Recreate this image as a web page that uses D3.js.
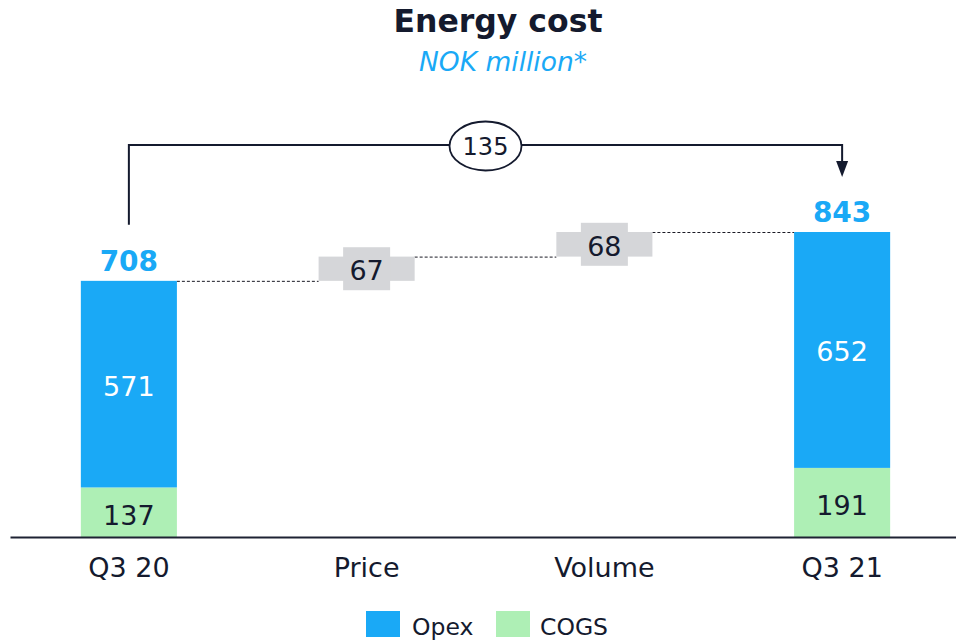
<!DOCTYPE html>
<html>
<head>
<meta charset="utf-8">
<script src="https://cdn.jsdelivr.net/npm/d3@7"></script>
<style>
  html, body { margin: 0; padding: 0; background: #ffffff; }
  svg { display: block; font-family: "DejaVu Sans", Verdana, sans-serif; }
</style>
</head>
<body>
<svg id="chart" width="956" height="641"></svg>
<script>
// Energy cost bridge, NOK million
const categories = ["Q3 20", "Price", "Volume", "Q3 21"];
const cogs = [137, null, null, 191];
const opex = [571, null, null, 652];
const deltas = [null, 67, 68, null];
const totalChange = 135;
const seriesNames = ["Opex", "COGS"];

const COLORS = { opex: "#1aa9f6", cogs: "#aeefb5", delta: "#d5d6d9", ink: "#141a2e", blue: "#1aa9f6" };

const svg = d3.select("#chart");

const x = d3.scaleBand().domain(categories).range([10, 961])
  .paddingInner(0.596).paddingOuter(0.298);
const y = d3.scaleLinear().domain([0, 843]).range([537, 232]);

// Build waterfall rows: totals are stacked, deltas float on the running level
let running = 0;
const rows = categories.map((c, i) => {
  if (deltas[i] == null) {
    const total = cogs[i] + opex[i];
    running = total;
    return { cat: c, type: "total", cogs: cogs[i], opex: opex[i], total };
  }
  const start = running;
  running += deltas[i];
  return { cat: c, type: "delta", start, end: running, value: deltas[i] };
});

const g = svg.append("g");

// Dashed connectors between consecutive bars
rows.forEach((r, i) => {
  if (i === rows.length - 1) return;
  const level = r.type === "total" ? r.total : r.end;
  const next = rows[i + 1];
  g.append("line")
    .attr("x1", x(r.cat) + x.bandwidth())
    .attr("x2", x(next.cat))
    .attr("y1", y(level) + 0.5).attr("y2", y(level) + 0.5)
    .attr("stroke", "#1a1a24").attr("stroke-width", 1)
    .attr("stroke-dasharray", "3,2");
});

// Total bars (COGS below, Opex above)
const totals = rows.filter(r => r.type === "total");
g.selectAll("rect.cogs").data(totals).join("rect")
  .attr("class", "cogs")
  .attr("x", d => x(d.cat)).attr("width", x.bandwidth())
  .attr("y", d => y(d.cogs)).attr("height", d => y(0) - y(d.cogs))
  .attr("fill", COLORS.cogs);
g.selectAll("rect.opex").data(totals).join("rect")
  .attr("class", "opex")
  .attr("x", d => x(d.cat)).attr("width", x.bandwidth())
  .attr("y", d => y(d.total)).attr("height", d => y(d.cogs) - y(d.total))
  .attr("fill", COLORS.opex);

g.selectAll("text.cogsv").data(totals).join("text")
  .attr("x", d => x(d.cat) + x.bandwidth() / 2)
  .attr("y", d => (y(0) + y(d.cogs)) / 2 + 3)
  .attr("text-anchor", "middle").attr("dominant-baseline", "central")
  .attr("font-size", 27).attr("fill", COLORS.ink)
  .text(d => d.cogs);
g.selectAll("text.opexv").data(totals).join("text")
  .attr("x", d => x(d.cat) + x.bandwidth() / 2)
  .attr("y", d => (y(d.cogs) + y(d.total)) / 2 + 2)
  .attr("text-anchor", "middle").attr("dominant-baseline", "central")
  .attr("font-size", 27).attr("fill", "#ffffff")
  .text(d => d.opex);
g.selectAll("text.totalv").data(totals).join("text")
  .attr("x", d => x(d.cat) + x.bandwidth() / 2)
  .attr("y", d => y(d.total) - 10)
  .attr("text-anchor", "middle")
  .attr("font-size", 28).attr("font-weight", "bold").attr("fill", COLORS.blue)
  .text(d => d.total);

// Floating delta bars with a label tab
const dRows = rows.filter(r => r.type === "delta");
g.selectAll("rect.delta").data(dRows).join("rect")
  .attr("x", d => x(d.cat)).attr("width", x.bandwidth())
  .attr("y", d => y(d.end)).attr("height", d => y(d.start) - y(d.end))
  .attr("fill", COLORS.delta);
g.selectAll("rect.tab").data(dRows).join("rect")
  .attr("x", d => x(d.cat) + x.bandwidth() / 2 - 23.5).attr("width", 47)
  .attr("y", d => (y(d.start) + y(d.end)) / 2 - 21.5).attr("height", 43)
  .attr("fill", COLORS.delta);
g.selectAll("text.deltav").data(dRows).join("text")
  .attr("x", d => x(d.cat) + x.bandwidth() / 2)
  .attr("y", d => (y(d.start) + y(d.end)) / 2 + 2)
  .attr("text-anchor", "middle").attr("dominant-baseline", "central")
  .attr("font-size", 27).attr("fill", COLORS.ink)
  .text(d => d.value);

// Baseline axis with category labels
const axis = d3.axisBottom(x).tickSizeInner(0).tickSizeOuter(0).tickPadding(21);
const ax = svg.append("g").attr("transform", `translate(0,${y(0)})`).call(axis);
ax.select(".domain").attr("stroke", "#1e2233").attr("stroke-width", 2);
ax.selectAll("text").attr("font-size", 27).attr("fill", COLORS.ink)
  .attr("font-family", "DejaVu Sans, Verdana, sans-serif");

// Bracket showing the overall change
const first = totals[0], last = totals[totals.length - 1];
const x0 = x(first.cat) + x.bandwidth() / 2;
const x1 = x(last.cat) + x.bandwidth() / 2;
const yTop = 145;
const yStart = y(first.total) - 56;
const yTip = y(last.total) - 55;
svg.append("path")
  .attr("d", `M${x0},${yStart} V${yTop} H${x1} V${yTip - 14}`)
  .attr("fill", "none").attr("stroke", COLORS.ink).attr("stroke-width", 2);
svg.append("path")
  .attr("d", `M${x1 - 6},${yTip - 16} L${x1 + 6},${yTip - 16} L${x1},${yTip} Z`)
  .attr("fill", COLORS.ink);
const cx = (x0 + x1) / 2;
svg.append("ellipse").attr("cx", cx).attr("cy", yTop + 1).attr("rx", 36).attr("ry", 24.5)
  .attr("fill", "#ffffff").attr("stroke", COLORS.ink).attr("stroke-width", 1.8);
svg.append("text").attr("x", cx).attr("y", yTop + 2)
  .attr("text-anchor", "middle").attr("dominant-baseline", "central")
  .attr("font-size", 24).attr("fill", COLORS.ink).text(totalChange);

// Title
svg.append("text").attr("x", 498).attr("y", 32).attr("text-anchor", "middle")
  .attr("font-size", 31.5).attr("font-weight", "bold").attr("fill", COLORS.ink)
  .text("Energy cost");
svg.append("text").attr("x", 503).attr("y", 71).attr("text-anchor", "middle")
  .attr("font-size", 26.5).attr("font-style", "italic").attr("fill", COLORS.blue)
  .text("NOK million*");

// Legend
const legendItems = [
  { name: seriesNames[0], color: COLORS.opex, x: 366, tx: 412 },
  { name: seriesNames[1], color: COLORS.cogs, x: 496, tx: 540 }
];
const lg = svg.append("g");
legendItems.forEach(it => {
  lg.append("rect").attr("x", it.x).attr("y", 611).attr("width", 34).attr("height", 26).attr("fill", it.color);
  lg.append("text").attr("x", it.tx).attr("y", 635).attr("font-size", 23.5).attr("fill", COLORS.ink).text(it.name);
});
</script>
</body>
</html>
